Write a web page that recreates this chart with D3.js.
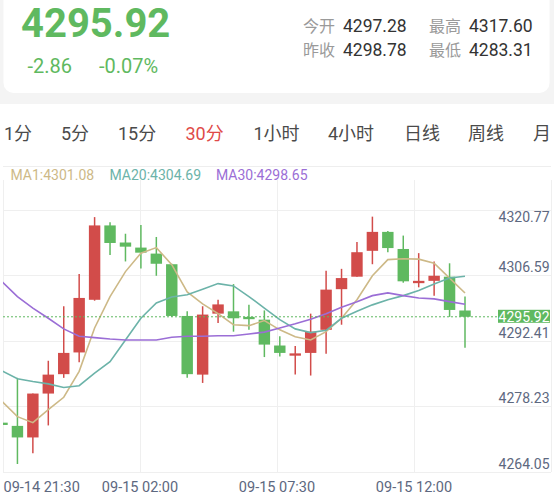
<!DOCTYPE html>
<meta charset="utf-8">
<style>
body { margin: 0; background: #fff; }
svg { display: block; font-family: Roboto, 'Noto Sans CJK SC', sans-serif; }
</style>
<body>
<script src="https://d3js.org/d3.v7.min.js"></script>
<script>

let lastPrice = 4295.92;
let changeTexts = ['-2.86', '-0.07%'];
let statNames = ['今开', '最高', '昨收', '最低'];
let statValues = ['4297.28', '4317.60', '4298.78', '4283.31'];
let tabs = ['1分', '5分', '15分', '30分', '1小时', '4小时', '日线', '周线', '月'];
let activeTab = '30分';
let maNames = ['MA1', 'MA20', 'MA30'];
let maLast = ['4301.08', '4304.69', '4298.65'];
let xLabels = ['09-14 21:30', '09-15 02:00', '09-15 07:30', '09-15 12:00'];
let yTicks = [4264.05, 4278.23, 4292.41, 4306.59, 4320.77];

// 30分 k线
let open  = [4273.0, 4272.3, 4269.8, 4279.3, 4283.5, 4288.2, 4299.6, 4315.7, 4312.0, 4310.9,
             4309.6, 4307.3, 4296.1, 4283.4, 4296.6, 4297.1, 4295.9, 4295.3, 4289.7, 4287.5,
             4288.1, 4293.1, 4301.9, 4304.6, 4310.2, 4314.3, 4310.6, 4303.2, 4303.7, 4304.6, 4297.28];
let high  = [4273.2, 4282.7, 4279.3, 4286.4, 4298.2, 4305.2, 4317.5, 4316.4, 4313.9, 4315.8,
             4313.2, 4307.4, 4297.1, 4298.2, 4299.6, 4303.0, 4298.5, 4297.3, 4291.7, 4289.6,
             4296.6, 4305.9, 4306.3, 4312.1, 4317.6, 4314.5, 4313.5, 4309.7, 4307.9, 4307.5, 4300.3];
let low   = [4272.3, 4264.05, 4266.4, 4272.4, 4282.7, 4286.1, 4299.4, 4309.3, 4307.9, 4306.4,
             4304.8, 4295.9, 4282.7, 4281.6, 4294.6, 4292.7, 4293.1, 4287.2, 4287.3, 4283.4,
             4283.2, 4287.9, 4294.2, 4304.6, 4307.3, 4309.9, 4303.3, 4302.3, 4300.5, 4295.9, 4289.2];
let close = [4272.5, 4269.8, 4279.3, 4283.4, 4288.1, 4300.0, 4315.7, 4311.9, 4311.1, 4309.8,
             4307.4, 4296.1, 4283.5, 4296.4, 4298.6, 4295.6, 4295.4, 4289.9, 4288.1, 4288.0,
             4292.7, 4301.8, 4304.3, 4309.9, 4314.3, 4310.8, 4303.6, 4303.7, 4304.8, 4297.4, 4295.92];

// moving average lines as drawn
let ma1  = [4277.6, 4274.3, 4273.0, 4275.8, 4278.5, 4284.1, 4293.5, 4300.3, 4305.7, 4309.7,
            4310.9, 4307.2, 4301.3, 4298.7, 4296.6, 4294.2, 4294.0, 4295.1, 4293.1, 4291.6,
            4290.9, 4292.7, 4295.6, 4299.6, 4304.8, 4308.3, 4308.5, 4308.4, 4307.5, 4304.3, 4301.08];
let ma20 = [4284.2, 4282.5, 4281.9, 4281.4, 4280.6, 4281.0, 4283.7, 4286.2, 4290.9, 4295.6,
            4298.9, 4300.2, 4300.7, 4301.9, 4303.1, 4302.6, 4300.3, 4297.8, 4295.3, 4293.3,
            4292.5, 4293.0, 4295.6, 4297.1, 4298.5, 4299.6, 4300.5, 4301.6, 4303.0, 4304.3, 4304.69];
let ma30 = [4303.5, 4300.3, 4297.8, 4295.6, 4293.3, 4291.7, 4291.4, 4291.1, 4290.9, 4290.9,
            4290.9, 4291.5, 4291.7, 4291.7, 4291.8, 4291.8, 4292.2, 4292.6, 4293.5, 4294.4,
            4295.4, 4296.6, 4298.0, 4299.2, 4300.5, 4301.1, 4300.5, 4300.0, 4299.8, 4299.2, 4298.65];

let width = 554;
let height = 500;
let red = '#d24c4a';
let green = '#5fb960';
let maColors = ['#cdb987', '#6cb3a9', '#9b6ed6'];
let axisColor = '#5d6880';

let svg = d3.select('body').append('svg')
	.attr('width', width)
	.attr('height', height);

// ---- header card ----
svg.append('rect').attr('width', width).attr('height', 104).attr('fill', '#f4f4f4');
svg.append('rect')
	.attr('x', 3.5).attr('y', -20)
	.attr('width', 546).attr('height', 113)
	.attr('rx', 10)
	.attr('fill', '#fff');

svg.append('text')
	.attr('x', 21).attr('y', 37)
	.attr('fill', green)
	.style('font-size', '40px')
	.style('font-weight', 'bold')
	.text(lastPrice.toFixed(2));

svg.selectAll('.chg').data(changeTexts).join('text')
	.attr('class', 'chg')
	.attr('x', (d, i) => [27.5, 99][i])
	.attr('y', 73)
	.attr('fill', green)
	.style('font-size', '20px')
	.text(d => d);

let stats = svg.selectAll('.stat').data(statNames).join('g')
	.attr('class', 'stat')
	.attr('transform', (d, i) => 'translate(' + [303, 429][i % 2] + ',' + [32, 56][Math.floor(i / 2)] + ')');
stats.append('text')
	.attr('fill', '#9a9a9a')
	.style('font-size', '16px')
	.text(d => d);
stats.append('text')
	.attr('x', 40)
	.attr('fill', '#333')
	.style('font-size', '17.5px')
	.text((d, i) => statValues[i]);

// ---- period tabs ----
let tabX = [4, 61, 118, 185.5, 253.5, 328, 404, 468, 533];
svg.selectAll('.tab').data(tabs).join('text')
	.attr('class', 'tab')
	.attr('x', (d, i) => tabX[i])
	.attr('y', 139.5)
	.attr('fill', d => d === activeTab ? '#e04a48' : '#4a4a4a')
	.style('font-size', '18px')
	.text(d => d);

svg.append('line')
	.attr('x1', 3).attr('x2', 551)
	.attr('y1', 166.5).attr('y2', 166.5)
	.attr('stroke', '#eeeeee');

// legend
svg.selectAll('.ma-legend').data(maNames).join('text')
	.attr('class', 'ma-legend')
	.attr('x', (d, i) => [10.5, 109.5, 216][i])
	.attr('y', 180)
	.attr('fill', (d, i) => maColors[i])
	.style('font-size', '14px')
	.text((d, i) => d + ':' + maLast[i]);

// ---- chart ----
let plot = { left: 3, right: 551, top: 180, bottom: 472 };

let x = d3.scaleLinear()
	.domain([0, close.length - 1])
	.range([2, 465]);

let y = d3.scaleLinear()
	.domain([yTicks[0], yTicks[yTicks.length - 1]])
	.range([464, 202]);

let grid = svg.append('g');
let colW = (plot.right - plot.left) / 4;
grid.selectAll('.vg').data(d3.range(5)).join('line')
	.attr('x1', d => plot.left + d * colW + 0.5)
	.attr('x2', d => plot.left + d * colW + 0.5)
	.attr('y1', plot.top).attr('y2', plot.bottom)
	.attr('stroke', '#efefef');
grid.selectAll('.hg').data(yTicks).join('line')
	.attr('x1', plot.left).attr('x2', plot.right)
	.attr('y1', d => Math.round(y(d) + 7.5) + 0.5)
	.attr('y2', d => Math.round(y(d) + 7.5) + 0.5)
	.attr('stroke', '#efefef');

svg.append('clipPath').attr('id', 'clip')
	.append('rect')
	.attr('x', plot.left).attr('y', plot.top)
	.attr('width', plot.right - plot.left).attr('height', plot.bottom - plot.top);

let chart = svg.append('g').attr('clip-path', 'url(#clip)');

let step = x(1) - x(0);
let bodyW = step * 0.74;
let colorOf = i => close[i] >= open[i] ? red : green;

let candle = chart.selectAll('.candle').data(d3.range(close.length)).join('g')
	.attr('class', 'candle');
candle.append('line')
	.attr('x1', i => x(i)).attr('x2', i => x(i))
	.attr('y1', i => y(high[i])).attr('y2', i => y(low[i]))
	.attr('stroke', colorOf)
	.attr('stroke-width', 1.5);
candle.append('rect')
	.attr('x', i => x(i) - bodyW / 2)
	.attr('y', i => y(Math.max(open[i], close[i])))
	.attr('width', bodyW)
	.attr('height', i => Math.max(1.6, Math.abs(y(open[i]) - y(close[i]))))
	.attr('fill', colorOf);

let line = d3.line()
	.x((d, i) => x(i))
	.y(d => y(d));

chart.selectAll('.ma').data([ma1, ma20, ma30]).join('path')
	.attr('class', 'ma')
	.attr('d', line)
	.attr('fill', 'none')
	.attr('stroke', (d, i) => maColors[i])
	.attr('stroke-width', 1.6);

// last price dotted line + tag
svg.append('line')
	.attr('x1', plot.left).attr('x2', 498)
	.attr('y1', y(lastPrice)).attr('y2', y(lastPrice))
	.attr('stroke', green)
	.attr('stroke-width', 1)
	.attr('stroke-dasharray', '2,2');

// y axis labels (inside, right)
svg.selectAll('.ylab').data(yTicks).join('text')
	.attr('class', 'ylab')
	.attr('x', 549.5)
	.attr('y', (d, i) => i === yTicks.length - 1 ? y(d) + 14.5 : y(d) - 0.5)
	.attr('text-anchor', 'end')
	.attr('dominant-baseline', 'central')
	.attr('fill', axisColor)
	.style('font-size', '14px')
	.text(d => d.toFixed(2));

svg.append('rect')
	.attr('x', 498).attr('y', y(lastPrice) - 7)
	.attr('width', 52).attr('height', 13)
	.attr('fill', green);
svg.append('text')
	.attr('x', 549.5).attr('y', y(lastPrice))
	.attr('text-anchor', 'end')
	.attr('dominant-baseline', 'central')
	.attr('fill', '#fff')
	.style('font-size', '14px')
	.text(lastPrice.toFixed(2));

// x axis labels
svg.selectAll('.xlab').data(xLabels).join('text')
	.attr('class', 'xlab')
	.attr('x', (d, i) => i === 0 ? plot.left + 0.5 : plot.left + i * colW)
	.attr('y', 492)
	.attr('text-anchor', (d, i) => i === 0 ? 'start' : 'middle')
	.attr('fill', axisColor)
	.style('font-size', '14.5px')
	.text(d => d);

</script>
</body>
